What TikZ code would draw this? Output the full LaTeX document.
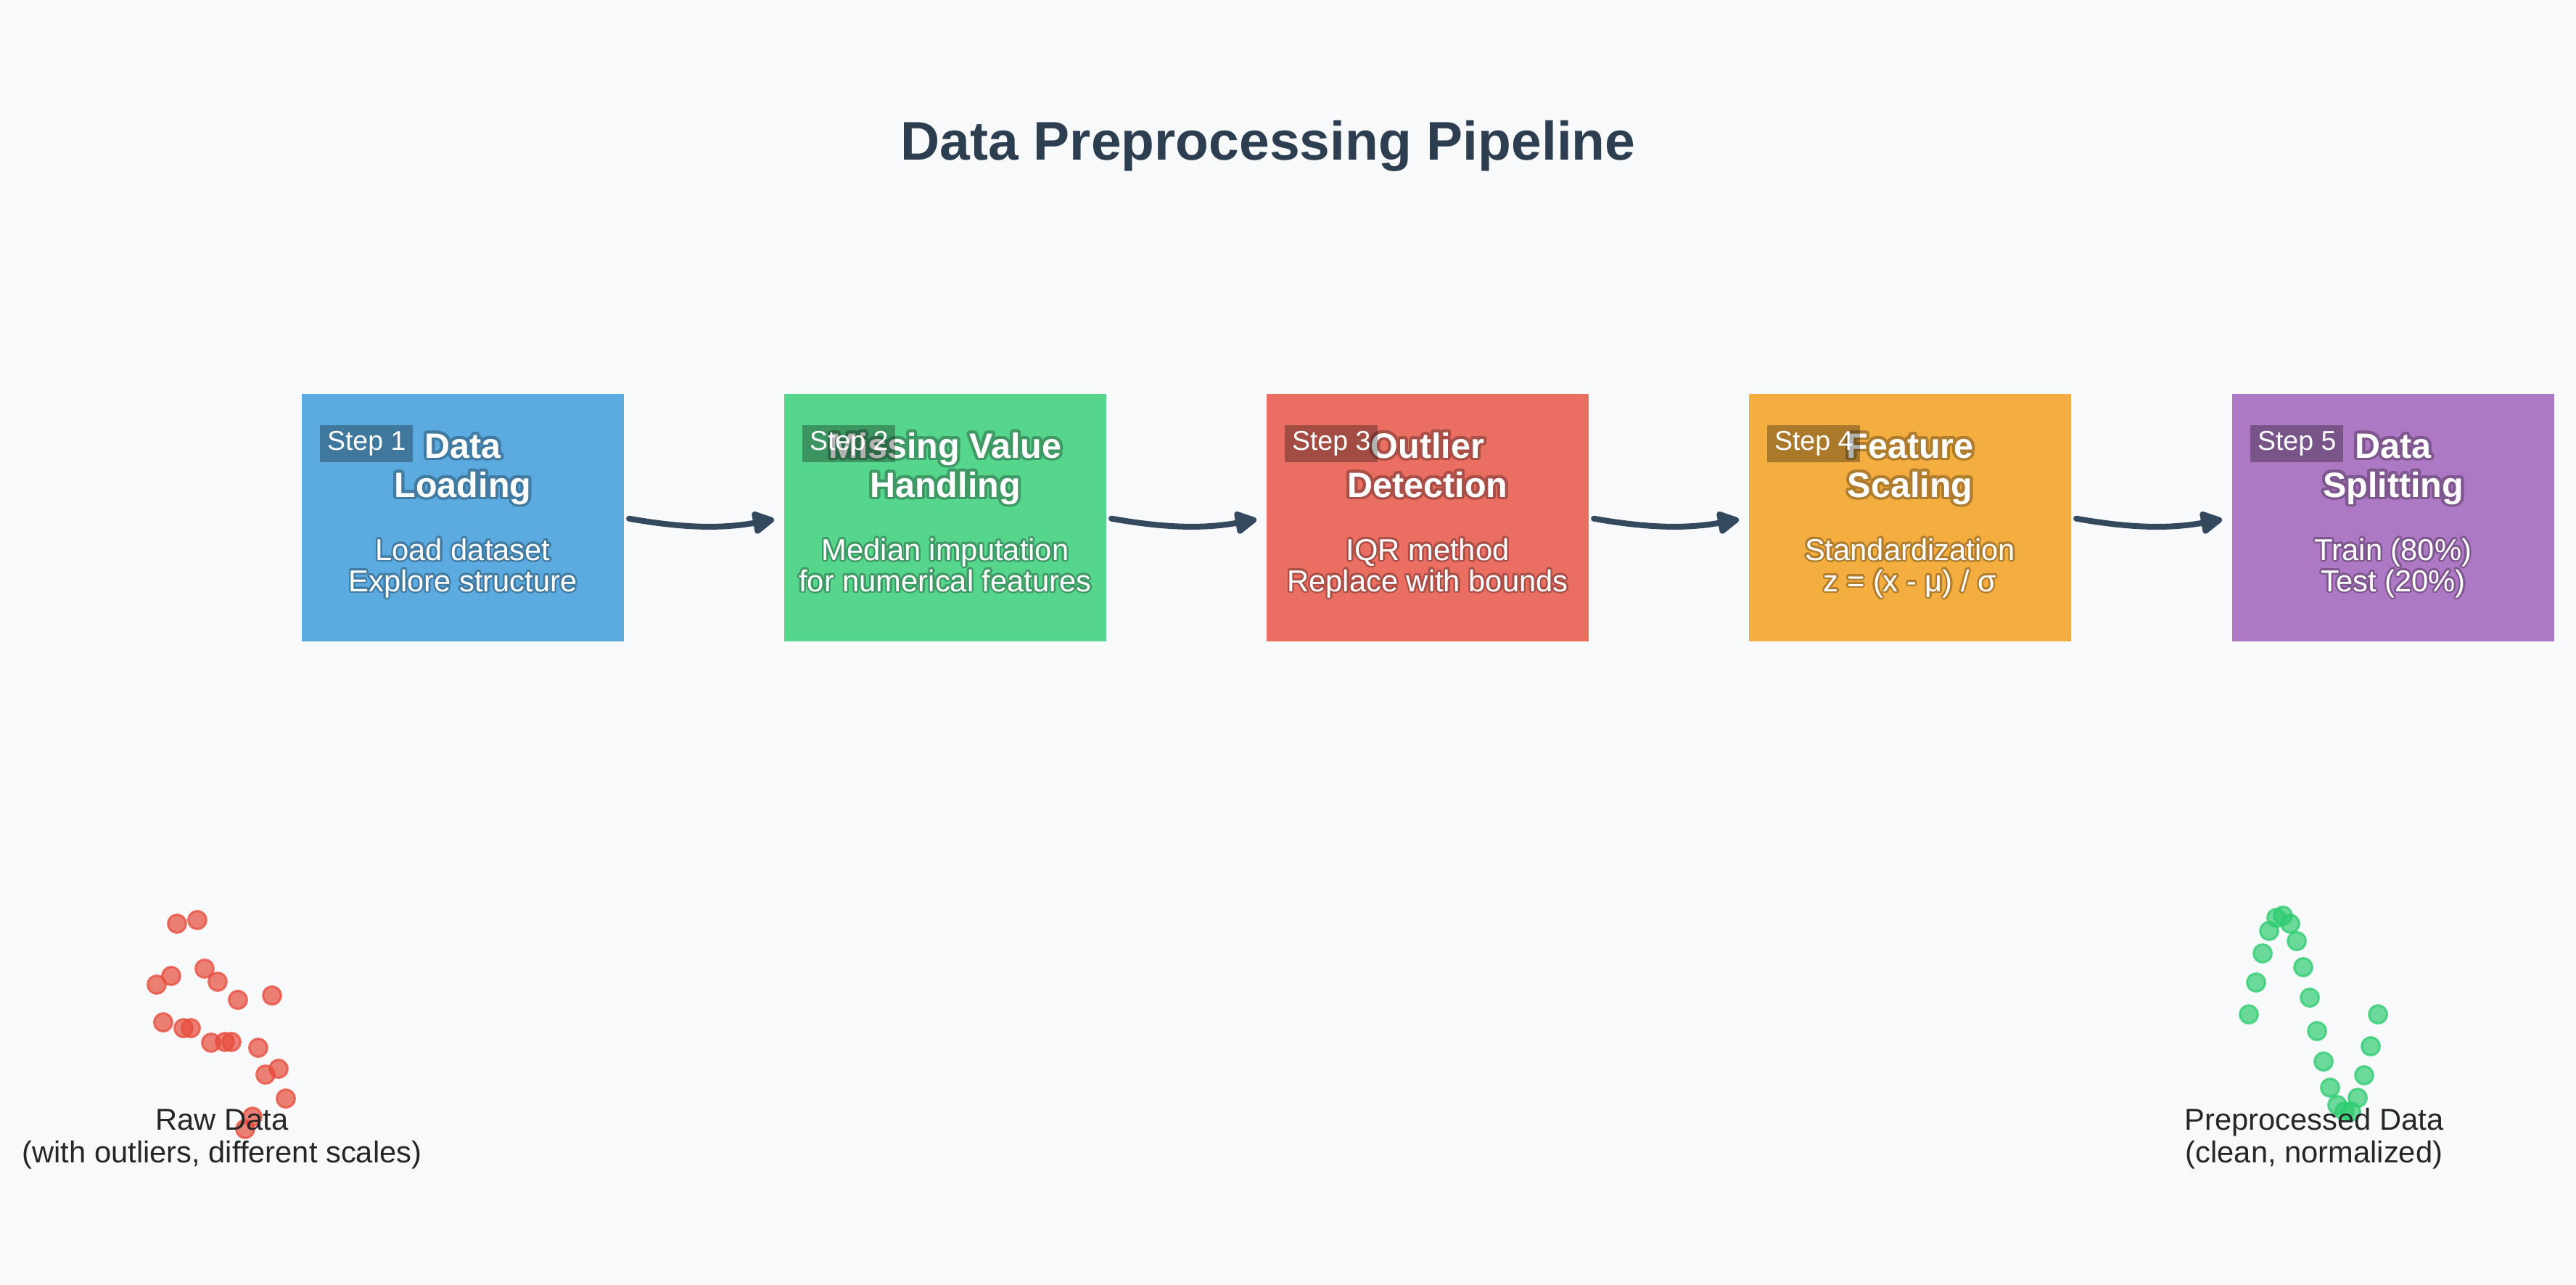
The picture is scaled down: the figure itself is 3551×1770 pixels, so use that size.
\documentclass[tikz,border=0pt]{standalone}
\usepackage{fontspec}
\setmainfont{Liberation Sans}
\usetikzlibrary{arrows.meta,calc}
\definecolor{bg}{HTML}{F8F9FA}
\definecolor{titlec}{HTML}{2C3E50}
\definecolor{arrc}{HTML}{34495E}
\definecolor{labc}{HTML}{262626}
\definecolor{c1}{HTML}{5BABE1}
\definecolor{c2}{HTML}{56D58C}
\definecolor{c3}{HTML}{EA6E62}
\definecolor{c4}{HTML}{F4AE40}
\definecolor{c5}{HTML}{AE79C4}
\colorlet{c1d}{c1!72!black}
\colorlet{c2d}{c2!72!black}
\colorlet{c3d}{c3!72!black}
\colorlet{c4d}{c4!72!black}
\colorlet{c5d}{c5!72!black}
\definecolor{dotred}{HTML}{E74C3C}
\definecolor{dotgreen}{HTML}{2ECC71}
\newcommand{\otxt}[6]{%
  \foreach \ang in {0,20,...,340}{\node[#2,text=#3,anchor=base] (#6o\ang) at ($(#1)+(\ang:#4)$) {#5};}%
  \node[#2,text=white,anchor=base] (#6) at (#1) {#5};}
\tikzset{
  stepbox/.style={draw=none,inner sep=0pt,minimum width=444,minimum height=341},
  boxtitle/.style={font=\bfseries\fontsize{48.5}{53}\selectfont,inner sep=0pt},
  boxdesc/.style={font=\fontsize{41.7}{43}\selectfont,inner sep=0pt},
  steplab/.style={anchor=north west,fill=black,fill opacity=0.3,text opacity=1,text=white,
    font=\fontsize{37.5}{40}\selectfont,inner xsep=10pt,inner ysep=0pt,minimum height=51,minimum width=125},
  arr/.style={draw=arrc,line width=8pt,line cap=round,-{Triangle[length=34pt,width=34pt,round]},
    shorten <=7pt,shorten >=14pt},
  reddot/.style={fill=dotred,draw=dotred,fill opacity=0.7,draw opacity=0.75,line width=3pt},
  greendot/.style={fill=dotgreen,draw=dotgreen,fill opacity=0.7,draw opacity=0.75,line width=3pt},
  bottomlab/.style={anchor=base,text=labc,font=\fontsize{41.7}{45}\selectfont,inner sep=0pt}
}
\begin{document}
\begin{tikzpicture}[x=1pt,y=-1pt]
\fill[bg] (0,0) rectangle (3551,1770);
\useasboundingbox (0,0) rectangle (3551,1770);

\node[font=\bfseries\fontsize{75}{90}\selectfont,text=titlec,anchor=base,inner sep=0pt] (title) at (1748,220) {Data Preprocessing Pipeline};

% boxes
\node[stepbox,fill=c1] (b1) at (638,713.5) {};
\node[stepbox,fill=c2] (b2) at (1303,713.5) {};
\node[stepbox,fill=c3] (b3) at (1968,713.5) {};
\node[stepbox,fill=c4] (b4) at (2633,713.5) {};
\node[stepbox,fill=c5] (b5) at (3299,713.5) {};

% titles
\otxt{638,631}{boxtitle}{c1d}{4}{Data}{t1a}
\otxt{638,685}{boxtitle}{c1d}{4}{Loading}{t1b}
\otxt{1303,631}{boxtitle}{c2d}{4}{Missing Value}{t2a}
\otxt{1303,685}{boxtitle}{c2d}{4}{Handling}{t2b}
\otxt{1968,631}{boxtitle}{c3d}{4}{Outlier}{t3a}
\otxt{1968,685}{boxtitle}{c3d}{4}{Detection}{t3b}
\otxt{2633,631}{boxtitle}{c4d}{4}{Feature}{t4a}
\otxt{2633,685}{boxtitle}{c4d}{4}{Scaling}{t4b}
\otxt{3299,631}{boxtitle}{c5d}{4}{Data}{t5a}
\otxt{3299,685}{boxtitle}{c5d}{4}{Splitting}{t5b}

% descriptions
\otxt{638,772}{boxdesc}{c1d}{2.4}{Load dataset}{d1a}
\otxt{638,815}{boxdesc}{c1d}{2.4}{Explore structure}{d1b}
\otxt{1303,772}{boxdesc}{c2d}{2.4}{Median imputation}{d2a}
\otxt{1303,815}{boxdesc}{c2d}{2.4}{for numerical features}{d2b}
\otxt{1968,772}{boxdesc}{c3d}{2.4}{IQR method}{d3a}
\otxt{1968,815}{boxdesc}{c3d}{2.4}{Replace with bounds}{d3b}
\otxt{2633,772}{boxdesc}{c4d}{2.4}{Standardization}{d4a}
\otxt{2633,815}{boxdesc}{c4d}{2.4}{z = (x - μ) / σ}{d4b}
\otxt{3299,772}{boxdesc}{c5d}{2.4}{Train (80\%)}{d5a}
\otxt{3299,815}{boxdesc}{c5d}{2.4}{Test (20\%)}{d5b}

% step labels
\node[steplab] (s1) at ($(b1.north west)+(25,43)$) {Step 1};
\node[steplab] (s2) at ($(b2.north west)+(25,43)$) {Step 2};
\node[steplab] (s3) at ($(b3.north west)+(25,43)$) {Step 3};
\node[steplab] (s4) at ($(b4.north west)+(25,43)$) {Step 4};
\node[steplab] (s5) at ($(b5.north west)+(25,43)$) {Step 5};

% arrows
\draw[arr] (b1.east) to[bend right=10] (b2.west);
\draw[arr] (b2.east) to[bend right=10] (b3.west);
\draw[arr] (b3.east) to[bend right=10] (b4.west);
\draw[arr] (b4.east) to[bend right=10] (b5.west);

% raw data scatter
\foreach \px/\py in {244/1273,272/1268,236/1345,216/1357,282/1335,300/1353,328/1378,375/1372,
  225/1409,253/1417,263/1417,291/1437,310/1436,319/1436,356/1444,384/1473,366/1481,394/1514,348/1539,338/1556}
  \path[reddot] (\px,\py) circle (12.5);

% preprocessed scatter
\foreach \px/\py in {3100/1398,3110/1354,3119/1314,3128/1283,3138/1265,3147/1262,3157/1273,3166/1297,
  3175/1333,3184/1375,3194/1421,3203/1463,3212/1499,3222/1523,3232/1532,3241/1532,3250/1513,3259/1482,3268/1442,3278/1398}
  \path[greendot] (\px,\py) circle (12.5);

\node[bottomlab] (raw1) at (306,1557) {Raw Data};
\node[bottomlab] (raw2) at (306,1602) {(with outliers, different scales)};
\node[bottomlab] (pre1) at (3190,1557) {Preprocessed Data};
\node[bottomlab] (pre2) at (3190,1602) {(clean, normalized)};
\end{tikzpicture}
\end{document}
